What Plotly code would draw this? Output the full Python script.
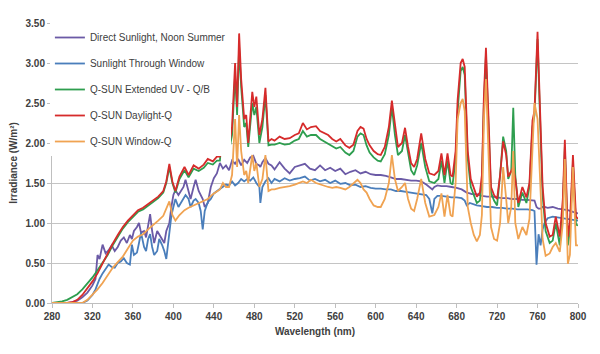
import plotly.graph_objects as go

# ---------------- Q-SUN xenon spectra (shared wavelength grid) ----------------
wl_q = [280, 285, 290, 295, 300, 305, 310, 315, 320, 325,
        330, 335, 340, 345, 350, 355, 360, 365, 370, 375,
        380, 385, 390, 393, 396, 399, 402, 406, 411, 415,
        420, 425, 430, 434, 439, 443, 446, 449, 452, 455,
        458, 461, 463, 465, 467, 470, 472, 474, 478, 480,
        482, 485, 488, 491, 494, 497, 500, 505, 510, 515,
        520, 524, 528, 532, 536, 541, 545, 549, 553, 557,
        561, 565, 570, 574, 578, 582, 585, 588, 591, 594,
        598, 602, 605, 609, 613, 616, 619, 622, 626, 629,
        632, 635, 638, 641, 645, 649, 653, 658, 662, 665,
        668, 671, 674, 676, 679, 681, 684, 686, 688, 691,
        694, 697, 700, 703, 705, 707, 709, 711, 714, 717,
        720, 723, 726, 729, 731, 734, 736, 738, 741, 745,
        749, 752, 755, 757, 760, 762, 765, 768, 772, 775,
        778, 782, 785, 787, 790, 792, 795, 798, 800]

qsun_daylight = [0, 0, 0, 0, 0.01, 0.04, 0.1, 0.18, 0.27, 0.37,
                 0.5, 0.62, 0.74, 0.85, 0.95, 1.03, 1.1, 1.16, 1.19, 1.24,
                 1.28, 1.33, 1.4, 1.52, 1.74, 1.52, 1.4, 1.58, 1.7, 1.6,
                 1.72, 1.68, 1.73, 1.8, 1.77, 1.83, 1.83, 2.33, 2.1, 1.95,
                 2.2, 3.0, 2.45, 3.37, 2.8, 2.3, 2.35, 2.0, 2.64, 2.45,
                 2.58, 2.1, 2.3, 2.69, 2.02, 2.05, 2.03, 2.08, 2.05, 2.06,
                 2.1, 2.12, 2.25, 2.17, 2.2, 2.21, 2.15, 2.12, 2.1, 2.05,
                 2.02, 2.05, 1.97, 1.94, 1.98, 2.15, 2.2, 2.18, 2.05, 1.97,
                 1.9, 1.86, 1.85, 1.95, 2.2, 2.53, 2.2, 1.95, 2.0, 2.19,
                 1.95, 1.75, 1.7, 1.8, 2.12, 1.8, 1.62, 1.6, 1.65, 1.87,
                 1.6, 1.87, 1.6, 1.58, 1.9, 2.54, 3.0, 3.05, 2.95, 1.9,
                 1.55, 1.45, 1.33, 1.38, 1.6, 2.6, 3.19, 2.5, 1.45, 1.35,
                 1.3, 1.6, 2.02, 1.85, 1.58, 1.65, 1.7, 1.55, 1.25, 1.45,
                 1.32, 1.5, 2.28, 2.4, 3.39, 2.6, 1.46, 1.0, 0.83, 0.85,
                 1.08, 0.83, 1.3, 2.04, 0.83, 1.0, 1.85, 1.08, 1.05]

qsun_ext_uv = [0, 0.01, 0.02, 0.04, 0.07, 0.11, 0.17, 0.24, 0.32, 0.41,
               0.5, 0.6, 0.72, 0.83, 0.93, 1.01, 1.08, 1.14, 1.17, 1.22,
               1.26, 1.31, 1.38, 1.5, 1.7, 1.5, 1.38, 1.55, 1.66, 1.57,
               1.68, 1.65, 1.69, 1.75, 1.73, 1.78, 1.78, 2.28, 2.05, 1.9,
               2.1, 2.85, 2.35, 3.2, 2.7, 2.2, 2.25, 1.95, 2.5, 2.35,
               2.45, 2.0, 2.2, 2.6, 1.97, 1.98, 1.98, 2.0, 1.98, 1.99,
               2.03, 2.05, 2.15, 2.08, 2.1, 2.1, 2.05, 2.02, 2.0, 1.96,
               1.93, 1.95, 1.88, 1.85, 1.9, 2.08, 2.12, 2.1, 1.97, 1.88,
               1.82, 1.78, 1.77, 1.86, 2.1, 2.45, 2.1, 1.85, 1.9, 2.1,
               1.85, 1.66, 1.6, 1.72, 2.0, 1.7, 1.52, 1.5, 1.55, 1.78,
               1.5, 1.78, 1.5, 1.48, 1.8, 2.4, 2.9, 2.95, 2.85, 1.8,
               1.45, 1.35, 1.25, 1.28, 1.5, 2.5, 3.1, 2.4, 1.38, 1.28,
               1.22, 1.6, 2.08, 1.9, 1.55, 1.65, 2.44, 1.6, 1.2, 1.38,
               1.25, 1.45, 2.2, 2.35, 3.3, 2.5, 1.35, 0.9, 0.75, 0.78,
               1.0, 0.72, 1.2, 1.95, 0.72, 0.9, 1.75, 0.98, 0.97]

qsun_window = [0, 0, 0, 0, 0, 0, 0, 0.04, 0.1, 0.17,
               0.25, 0.35, 0.44, 0.51, 0.58, 0.68, 0.78, 0.83, 0.86, 0.92,
               0.97, 1.03, 1.09, 1.18, 1.27, 1.1, 1.03, 1.1, 1.16, 1.19,
               1.22, 1.24, 1.27, 1.3, 1.36, 1.4, 1.42, 1.5, 1.45, 1.45,
               1.6, 2.3, 1.7, 2.35, 1.9, 1.6, 1.65, 1.5, 1.85, 1.65,
               1.75, 1.45, 1.55, 1.85, 1.4, 1.42, 1.42, 1.44, 1.45, 1.46,
               1.48, 1.5, 1.52, 1.5, 1.54, 1.5, 1.48, 1.47, 1.45, 1.44,
               1.45, 1.44, 1.42, 1.45, 1.5, 1.54, 1.5, 1.42, 1.38, 1.3,
               1.22, 1.2, 1.2, 1.3, 1.5, 1.85, 1.55, 1.4, 1.45, 1.5,
               1.3, 1.18, 1.15, 1.3, 1.55, 1.25, 1.08, 1.1, 1.2, 1.37,
               1.08, 1.35, 1.1, 1.08, 1.5, 2.3, 2.5, 2.55, 2.4, 1.2,
               1.0, 0.85, 0.77, 0.85, 1.1, 2.3, 2.8, 2.0, 0.95, 0.8,
               0.78, 1.0, 1.7, 1.3, 1.0, 1.2, 1.9, 1.0, 0.8, 0.95,
               0.85, 1.05, 2.0, 2.5, 2.3, 1.6, 0.8, 0.59, 0.62, 0.7,
               0.75, 0.64, 1.0, 1.8, 0.49, 0.6, 1.7, 0.72, 0.72]

# ---------------- Sunlight spectra (shared wavelength grid) ----------------
wl_s = [290, 295, 300, 305, 310, 315, 320, 323, 325, 327,
        330, 333, 336, 339, 342, 345, 348, 351, 354, 357,
        359, 361, 364, 366, 368, 371, 373, 375, 377, 379,
        381, 384, 386, 389, 391, 393, 396, 398, 400, 402,
        405, 407, 410, 412, 415, 417, 420, 422, 425, 427,
        429, 431, 434, 437, 440, 443, 446, 449, 452, 455,
        458, 461, 464, 467, 470, 473, 476, 479, 482, 485,
        486, 488, 491, 494, 497, 500, 505, 510, 515, 520,
        525, 530, 535, 540, 545, 550, 555, 560, 565, 570,
        575, 580, 585, 590, 595, 600, 605, 610, 615, 620,
        625, 630, 635, 640, 645, 650, 653, 656, 658, 661,
        665, 670, 675, 680, 685, 688, 690, 693, 695, 700,
        705, 710, 715, 720, 725, 730, 735, 740, 745, 750,
        755, 757, 759, 761, 763, 765, 767, 770, 775, 780,
        785, 790, 795, 800]

direct_sun = [0, 0, 0.01, 0.03, 0.07, 0.13, 0.22, 0.3, 0.6, 0.55,
              0.73, 0.62, 0.66, 0.72, 0.65, 0.7, 0.78, 0.82, 0.75, 0.85,
              0.8, 0.9, 0.95, 1.0, 0.88, 0.9, 0.82, 0.95, 1.11, 0.9,
              0.75, 0.9, 0.86, 0.8, 0.75, 0.9, 1.0, 1.2, 1.35, 1.41,
              1.35, 1.39, 1.45, 1.54, 1.4, 1.3, 1.45, 1.54, 1.4, 1.35,
              1.3, 1.2, 1.25, 1.45, 1.56, 1.62, 1.75, 1.68, 1.72, 1.66,
              1.78, 1.74, 1.8, 1.72, 1.79, 1.75, 1.82, 1.84, 1.74, 1.72,
              1.7, 1.76, 1.81, 1.74, 1.72, 1.67, 1.76, 1.68, 1.62, 1.7,
              1.72, 1.74, 1.68, 1.66, 1.72, 1.66, 1.69, 1.65, 1.68, 1.61,
              1.64, 1.66, 1.62, 1.64, 1.61, 1.6, 1.6, 1.59, 1.57, 1.55,
              1.55, 1.54, 1.53, 1.53, 1.52, 1.48, 1.45, 1.42, 1.45, 1.47,
              1.46, 1.46, 1.45, 1.44, 1.42, 1.39, 1.38, 1.37, 1.36, 1.36,
              1.34, 1.33, 1.33, 1.32, 1.31, 1.31, 1.3, 1.3, 1.29, 1.29,
              1.28, 1.28, 1.2, 1.18, 1.18, 1.2, 1.2, 1.19, 1.2, 1.18,
              1.17, 1.16, 1.14, 1.12]

window_sun = [0, 0, 0, 0, 0, 0.03, 0.1, 0.17, 0.25, 0.3,
              0.37, 0.43, 0.48, 0.45, 0.44, 0.5, 0.52, 0.56, 0.5, 0.48,
              0.73, 0.6, 0.63, 0.75, 0.88, 0.7, 0.65, 0.8, 0.86, 0.7,
              0.6, 0.65, 0.8, 0.72, 0.65, 0.55, 0.85, 1.09, 1.2, 1.3,
              1.2, 1.24, 1.3, 1.35, 1.3, 1.2, 1.28, 1.3, 1.25, 1.15,
              0.92, 1.15, 1.26, 1.3, 1.37, 1.4, 1.43, 1.45, 1.48, 1.47,
              1.52, 1.47, 1.5, 1.55, 1.52, 1.55, 1.53, 1.57, 1.5, 1.45,
              1.25, 1.45, 1.52, 1.56, 1.5, 1.55, 1.52, 1.56, 1.53, 1.55,
              1.56, 1.58, 1.53, 1.55, 1.52, 1.54, 1.5, 1.53, 1.49, 1.5,
              1.47, 1.48, 1.45, 1.46, 1.44, 1.43, 1.43, 1.42, 1.42, 1.4,
              1.4, 1.39, 1.38, 1.37, 1.36, 1.35, 1.3, 1.12, 1.3, 1.34,
              1.34, 1.33, 1.32, 1.32, 1.31, 1.28, 1.22, 1.25, 1.24, 1.22,
              1.21, 1.2, 1.2, 1.19, 1.19, 1.18, 1.18, 1.17, 1.17, 1.17,
              1.16, 1.15, 0.48, 0.86, 0.72, 0.92, 1.0, 1.06, 1.08, 1.07,
              1.06, 1.05, 1.04, 1.03]

assert len(wl_q) == len(qsun_daylight) == len(qsun_ext_uv) == len(qsun_window)
assert len(wl_s) == len(direct_sun) == len(window_sun)

names = ["Direct Sunlight, Noon Summer", "Sunlight Through Window",
         "Q-SUN Extended UV - Q/B", "Q-SUN Daylight-Q", "Q-SUN Window-Q"]
xs = [wl_s, wl_s, wl_q, wl_q, wl_q]
ys = [direct_sun, window_sun, qsun_ext_uv, qsun_daylight, qsun_window]
colors = ["#6b5aa6", "#4a7ebb", "#2e9e4f", "#d62b2b", "#f0a352"]

FONT = "Liberation Sans, Arial, sans-serif"

fig = go.Figure()
for i, (n, x, y, c) in enumerate(zip(names, xs, ys, colors)):
    fig.add_trace(go.Scatter(x=x, y=y, name=n, mode="lines",
                             line=dict(color=c, width=1.8),
                             legendgroup=f"g{i}"))

fig.update_layout(
    width=600, height=354,
    margin=dict(l=52, r=22, t=23, b=51),
    paper_bgcolor="white", plot_bgcolor="white",
    font=dict(family=FONT, size=10, color="#404040"),
    showlegend=True,
    legend=dict(x=-0.004, y=1.0, xanchor="left", yanchor="top",
                bgcolor="white", borderwidth=0,
                font=dict(family=FONT, size=10, color="#404040"),
                traceorder="grouped", tracegroupgap=7, itemwidth=30),
)
fig.update_xaxes(range=[280, 800], tick0=280, dtick=40,
                 showline=True, linecolor="#bfbfbf", linewidth=1,
                 ticks="outside", ticklen=4, tickcolor="#bfbfbf",
                 showgrid=False, zeroline=False,
                 tickfont=dict(family=FONT, size=10, color="#404040", weight="bold"),
                 title=dict(text="Wavelength (nm)", standoff=6,
                            font=dict(family=FONT, size=10, color="#404040", weight="bold")))
fig.update_yaxes(range=[0, 3.5], tick0=0, dtick=0.5, tickformat=".2f",
                 showline=True, linecolor="#bfbfbf", linewidth=1,
                 ticks="outside", ticklen=4, tickcolor="#bfbfbf",
                 showgrid=True, gridcolor="#c4c4c4", gridwidth=1, zeroline=False,
                 tickfont=dict(family=FONT, size=10, color="#404040", weight="bold"),
                 title=dict(text="Irradiance (W/m²)", standoff=6,
                            font=dict(family=FONT, size=10, color="#404040", weight="bold")))

fig.write_html("out.html")
